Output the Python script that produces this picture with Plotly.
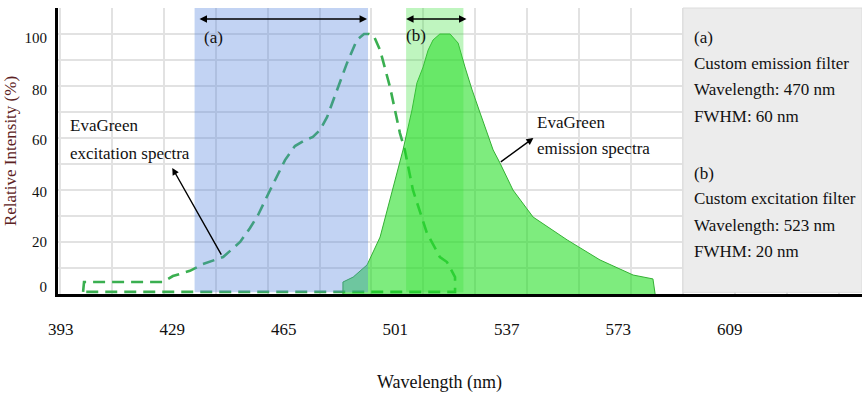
import plotly.graph_objects as go

# ---------------- data ----------------
ex_nm = [400.2, 400.5, 426.0, 429.2, 434.7, 438.9, 445.4, 450.9, 454.1, 456.7,
         460.6, 465.4, 468.6, 471.9, 474.4, 476.7, 479.0, 482.2, 485.4, 488.6,
         490.9, 492.5, 494.1, 496.1, 499.3, 502.5, 504.1, 506.7, 511.2, 515.4,
         517.7, 520.3, 520.3, 400.2]
ex_val = [0.8, 4.6, 4.6, 6.9, 8.9, 11.5, 14.2, 20.0, 25.4, 30.4,
          40.0, 51.5, 56.9, 59.2, 60.4, 63.1, 68.1, 78.5, 88.8, 97.7,
          100.0, 100.0, 99.2, 93.8, 79.6, 61.9, 55.4, 40.0, 23.5, 14.2,
          12.3, 6.5, 0.8, 0.8]

em_nm = [484.1, 484.1, 487.4, 491.9, 496.1, 499.3, 501.9, 503.5, 506.4, 508.0,
         510.0, 511.6, 513.2, 515.4, 518.7, 521.3, 523.5, 525.8, 528.4, 530.6,
         532.6, 534.8, 539.0, 545.5, 556.5, 567.1, 577.8, 584.2, 584.9, 584.9]
em_val = [0.0, 4.6, 6.5, 11.2, 21.9, 36.2, 48.8, 55.4, 70.8, 81.2,
          87.3, 93.8, 97.7, 100.0, 100.0, 96.5, 87.3, 78.5, 69.6, 61.9,
          55.4, 50.4, 40.0, 29.6, 20.8, 13.1, 7.3, 5.8, 0.8, 0.0]

x_ticks = [393, 429, 465, 501, 537, 573, 609]
y_tick_text = ["0", "20", "40", "60", "80", "100"]
y_tick_pos = [2.7, 20.0, 39.2, 59.2, 78.5, 98.5]

filter_a = (436.2, 492.2)   # blue band
filter_b = (504.5, 523.0)   # green band
panel_x0 = 593.9

panel_lines = ["(a)", "Custom emission filter", "Wavelength: 470 nm", "FWHM: 60 nm",
               "(b)", "Custom excitation filter", "Wavelength: 523 nm", "FWHM: 20 nm"]
panel_y = [98.8, 88.8, 78.5, 68.1, 46.2, 36.9, 26.5, 16.2]

X_MIN, X_MAX = 392.1, 651.7
FONT = "Liberation Serif, Times New Roman, serif"

fig = go.Figure()

fig.add_trace(go.Scatter(
    x=ex_nm, y=ex_val, mode="lines",
    line=dict(color="#3aaf50", width=2.6, dash="12px,7px"),
    hoverinfo="skip", showlegend=False))

fig.add_trace(go.Scatter(
    x=em_nm, y=em_val, mode="lines", fill="toself",
    fillcolor="rgba(20,220,20,0.55)",
    line=dict(color="#34b034", width=1),
    hoverinfo="skip", showlegend=False))

shapes = [
    dict(type="rect", xref="x", yref="paper", x0=filter_a[0], x1=filter_a[1],
         y0=0.006, y1=1, fillcolor="rgba(80,130,220,0.35)", line_width=0, layer="above"),
    dict(type="rect", xref="x", yref="paper", x0=filter_b[0], x1=filter_b[1],
         y0=0.006, y1=1, fillcolor="rgba(60,225,60,0.33)", line_width=0, layer="above"),
    dict(type="rect", xref="x", yref="paper", x0=panel_x0, x1=X_MAX,
         y0=0.006, y1=1, fillcolor="#ececec", line=dict(color="#dcdcdc", width=1), layer="above"),
]

ann = []
txt = dict(family=FONT, size=17, color="#111111")

# double-headed arrows for filter widths
for (x0, x1) in [(437.3, 491.9), (504.0, 524.0)]:
    ann.append(dict(x=x1, y=105.8, ax=x0, ay=105.8, xref="x", yref="y", axref="x", ayref="y",
                    text="", showarrow=True, arrowhead=2, startarrowhead=2, arrowside="end+start",
                    arrowsize=1.0, startarrowsize=1.0, arrowwidth=1.5, arrowcolor="black"))
ann.append(dict(x=442.2, y=98.8, xref="x", yref="y", text="(a)", showarrow=False, font=txt))
ann.append(dict(x=507.7, y=99.6, xref="x", yref="y", text="(b)", showarrow=False, font=txt))

# spectrum labels
ann.append(dict(x=395.3, y=65.0, xref="x", yref="y", text="EvaGreen", showarrow=False,
                xanchor="left", font=txt))
ann.append(dict(x=395.3, y=54.2, xref="x", yref="y", text="excitation spectra", showarrow=False,
                xanchor="left", font=txt))
ann.append(dict(x=546.1, y=65.8, xref="x", yref="y", text="EvaGreen", showarrow=False,
                xanchor="left", font=txt))
ann.append(dict(x=546.1, y=55.8, xref="x", yref="y", text="emission spectra", showarrow=False,
                xanchor="left", font=txt))
ann.append(dict(x=429.0, y=48.5, ax=445.1, ay=14.6, xref="x", yref="y", axref="x", ayref="y",
                text="", showarrow=True, arrowhead=2, arrowsize=1.0, arrowwidth=1.4, arrowcolor="black"))
ann.append(dict(x=545.6, y=60.0, ax=534.6, ay=50.4, xref="x", yref="y", axref="x", ayref="y",
                text="", showarrow=True, arrowhead=2, arrowsize=1.0, arrowwidth=1.4, arrowcolor="black"))

# right info panel
for t, yv in zip(panel_lines, panel_y):
    ann.append(dict(x=596.8, y=yv, xref="x", yref="y", text=t, showarrow=False,
                    xanchor="left", yanchor="middle", font=txt))

# x axis title
ann.append(dict(x=0.475, y=-0.311, xref="paper", yref="paper", text="Wavelength (nm)",
                showarrow=False, yanchor="middle",
                font=dict(family=FONT, size=18, color="#111111")))

fig.update_layout(
    width=862, height=403,
    margin=dict(l=58, r=0, t=8, b=109),
    paper_bgcolor="white", plot_bgcolor="white",
    shapes=shapes, annotations=ann,
    xaxis=dict(range=[X_MIN, X_MAX], tickmode="array", tickvals=x_ticks,
               ticktext=[str(v) for v in x_ticks], showgrid=False, zeroline=False,
               showline=True, linecolor="black", linewidth=3, ticks="",
               ticklabelstandoff=18,
               tickfont=dict(family=FONT, size=17, color="#111111"),
               minor=dict(tickmode="linear", tick0=392.74, dtick=16.76, showgrid=True,
                          gridcolor="#e2e2e2", gridwidth=1.5, ticks="")),
    yaxis=dict(range=[0, 110], tickmode="array", tickvals=y_tick_pos, ticktext=y_tick_text,
               showgrid=False, zeroline=False, showline=True, linecolor="black", linewidth=3,
               ticks="", ticklabelstandoff=5,
               tickfont=dict(family=FONT, size=15, color="#111111"),
               title=dict(text="Relative Intensity (%)", standoff=4,
                          font=dict(family=FONT, size=17, color="#5c2222")),
               minor=dict(tickmode="linear", tick0=0, dtick=10, showgrid=True,
                          gridcolor="#e2e2e2", gridwidth=1.5, ticks="")),
)

fig.write_html("out.html")
